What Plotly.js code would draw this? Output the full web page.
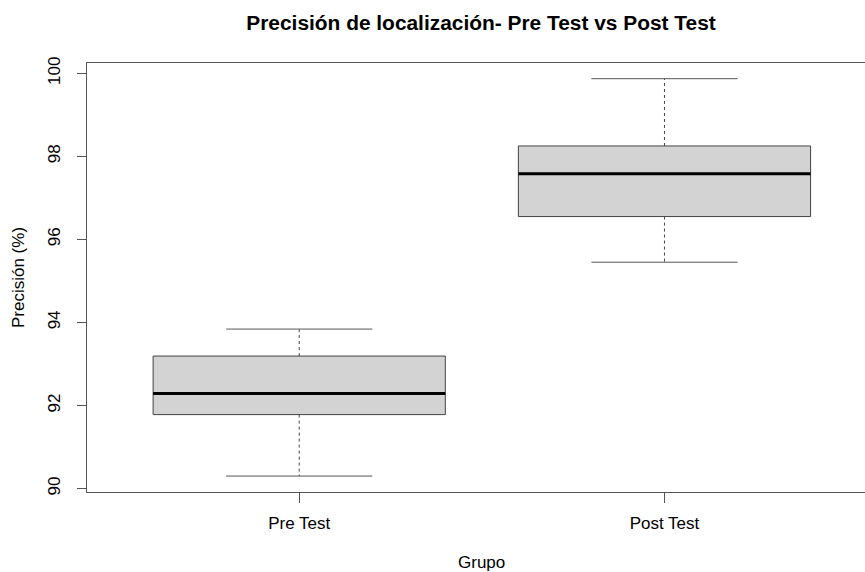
<!DOCTYPE html>
<html>
<head>
<meta charset="utf-8">
<script src="https://cdn.plot.ly/plotly-3.0.1.min.js"></script>
<style>html,body{margin:0;padding:0;background:#fff;}#chart{width:865px;height:572px;}</style>
</head>
<body>
<div id="chart"></div>
<script>
// Data
const categories = ['Pre Test', 'Post Test'];
const positions = [1, 2];
const minVals = [90.30, 95.45];
const q1Vals = [91.78, 96.55];
const medianVals = [92.29, 97.58];
const q3Vals = [93.19, 98.25];
const maxVals = [93.84, 99.87];
const yTicks = [90, 92, 94, 96, 98, 100];

const BOX_HALF = 0.4, CAP_HALF = 0.2;
const FONT = 'Liberation Sans, Arial, sans-serif';
const FS = 17;

const traces = [];

// Boxes (no whiskers, fences = quartiles)
traces.push({
  type: 'box',
  x: positions,
  q1: q1Vals, median: medianVals, q3: q3Vals,
  lowerfence: q1Vals, upperfence: q3Vals,
  width: 2 * BOX_HALF,
  whiskerwidth: 0,
  fillcolor: '#d3d3d3',
  line: {color: '#444', width: 1},
  hoverinfo: 'skip',
  showlegend: false
});

// Whiskers (dashed), caps and thick medians
const wx = [], wy = [], cx = [], cy = [], mx = [], my = [];
positions.forEach((p, i) => {
  wx.push(p, p, null, p, p, null);
  wy.push(q3Vals[i], maxVals[i], null, q1Vals[i], minVals[i], null);
  cx.push(p - CAP_HALF, p + CAP_HALF, null, p - CAP_HALF, p + CAP_HALF, null);
  cy.push(maxVals[i], maxVals[i], null, minVals[i], minVals[i], null);
  mx.push(p - BOX_HALF, p + BOX_HALF, null);
  my.push(medianVals[i], medianVals[i], null);
});
traces.push({type: 'scatter', mode: 'lines', x: wx, y: wy,
  line: {color: '#444', width: 1, dash: '3px,3px'}, hoverinfo: 'skip', showlegend: false});
traces.push({type: 'scatter', mode: 'lines', x: cx, y: cy,
  line: {color: '#555', width: 1}, hoverinfo: 'skip', showlegend: false});
traces.push({type: 'scatter', mode: 'lines', x: mx, y: my,
  line: {color: '#000', width: 3}, hoverinfo: 'skip', showlegend: false});

const layout = {
  width: 865, height: 572,
  paper_bgcolor: '#fff', plot_bgcolor: '#fff',
  margin: {l: 86.5, r: 0, t: 63, b: 79.5, pad: 0},
  font: {family: FONT, color: '#000', size: FS},
  title: {
    text: '<b>Precisión de localización- Pre Test vs Post Test</b>',
    font: {family: FONT, size: 20.9, color: '#000'},
    xref: 'container', x: 481 / 865, xanchor: 'center',
    yref: 'container', y: 1 - 23 / 572, yanchor: 'middle'
  },
  xaxis: {
    range: [0.419, 2.549],
    tickmode: 'array', tickvals: positions, ticktext: categories,
    showgrid: false, zeroline: false,
    showline: true, mirror: true, linecolor: '#555', linewidth: 1,
    ticks: 'outside', ticklen: 10, tickcolor: '#555', tickwidth: 1,
    ticklabelstandoff: 6,
    tickfont: {family: FONT, size: FS, color: '#000'}
  },
  yaxis: {
    range: [89.916, 100.248],
    tickmode: 'array', tickvals: yTicks, ticktext: yTicks.map(String),
    tickangle: -90,
    showgrid: false, zeroline: false,
    showline: true, mirror: true, linecolor: '#555', linewidth: 1,
    ticks: 'outside', ticklen: 9, tickcolor: '#555', tickwidth: 1,
    ticklabelstandoff: 10,
    tickfont: {family: FONT, size: FS, color: '#000'},
    title: {text: 'Precisión (%)', font: {family: FONT, size: FS, color: '#000'}, standoff: 16}
  },
  annotations: [{
    text: 'Grupo', showarrow: false,
    xref: 'paper', x: (481 - 86.5) / 778.5, xanchor: 'center',
    yref: 'paper', y: -(563 - 492.5) / 429.5, yanchor: 'middle',
    font: {family: FONT, size: FS, color: '#000'}
  }]
};

Plotly.newPlot('chart', traces, layout, {staticPlot: true, displayModeBar: false});
</script>
</body>
</html>
